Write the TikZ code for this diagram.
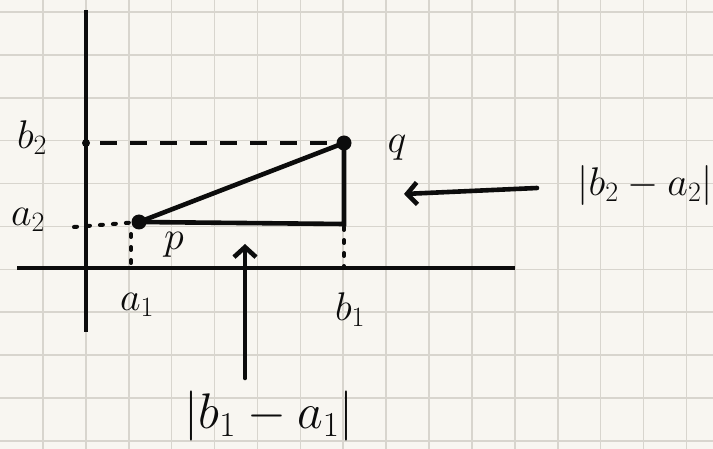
\RequirePackage{fix-cm}
\documentclass[tikz,border=0pt]{standalone}
\usepackage{amsmath,amssymb}
\usepackage{xcolor}
\usepackage{tikz}
\usetikzlibrary{arrows.meta,positioning,calc}
\definecolor{Xpaper}{RGB}{248,246,241}
\definecolor{Xgrid}{RGB}{216,213,206}
\definecolor{Xink}{RGB}{12,12,12}
\tikzset{
  axisline/.style={line width=4.6pt, draw=Xink},
  seg/.style={line width=4.6pt, draw=Xink, line cap=round},
  guide/.style={line width=4.6pt, draw=Xink, dash pattern=on 17pt off 13pt},
  dotguide/.style={line width=4pt, draw=Xink, line cap=round, dash pattern=on 3pt off 10pt},
  pointdot/.style={circle, fill=Xink, inner sep=0pt, minimum size=15pt},
  flow/.style={-{Straight Barb[length=10pt,width=22pt,line width=4.6pt]}, line width=4.6pt, draw=Xink, line cap=round},
  lbl/.style={inner sep=0pt, text=Xink, font=\fontsize{40}{44}\selectfont},
  biglbl/.style={inner sep=0pt, text=Xink, font=\fontsize{50}{54}\selectfont}
}

\begin{document}
\begin{tikzpicture}[x=1pt, y=-1pt]
  % paper and grid
  \fill[Xpaper] (0,0) rectangle (713,449);
  \useasboundingbox (0,0) rectangle (713,449);
  \foreach \i in {1,...,16}
    \draw[Xgrid, line width=1.6pt] (\i*42.9,0) -- (\i*42.9,449);
  \foreach \j in {0,...,10}
    \draw[Xgrid, line width=1.6pt] (0,12+\j*42.9) -- (713,12+\j*42.9);

  % axes
  \coordinate (ytop) at (86,10);
  \coordinate (ybot) at (86,332);
  \coordinate (xleft) at (17,268);
  \coordinate (xright) at (515,268);
  \draw[axisline] (ytop) -- (ybot);
  \draw[axisline] (xleft) -- (xright);

  % points and triangle
  \node[pointdot] (p) at (139,222) {};
  \node[pointdot] (q) at (344,143) {};
  \coordinate (corner) at (344,224);
  \draw[seg] (p.center) -- (q.center);
  \draw[seg] (p.center) -- (corner) -- (q.center);

  % guides to the axes
  \coordinate (b2tick) at (86,143);
  \coordinate (a2tick) at (74,227);
  \coordinate (a1top) at (131,234);
  \coordinate (a1tick) at (131,268);
  \coordinate (b1tick) at (344,268);
  \fill[Xink] (b2tick) circle (4pt);
  \draw[guide] ([xshift=14pt]b2tick) -- (q);
  \draw[dotguide] (a2tick) -- (p);
  \draw[dotguide] (a1top) -- (a1tick);
  \draw[dotguide] ([yshift=10pt]corner) -- (b1tick);

  % labels
  \node[lbl] (b2) at (32,138) {$b_2$};
  \node[lbl] (a2) at (28,220) {$a_2$};
  \node[lbl] (a1) at (137,305) {$a_1$};
  \node[lbl] (b1) at (350,310) {$b_1$};
  \node[lbl] (plbl) at (174,245) {$p$};
  \node[lbl] (qlbl) at (397,148) {$q$};

  % distances
  \node[biglbl] (dx) at (269,416) {$\lvert b_1-a_1\rvert$};
  \node[lbl] (dy) at (645,186) {$\lvert b_2-a_2\rvert$};
  \coordinate (uptail) at (245,378);
  \coordinate (uphead) at (245,244);
  \coordinate (lefttail) at (537,188);
  \coordinate (lefthead) at (404,194);
  \draw[flow] (uptail) -- (uphead);
  \draw[flow] (lefttail) -- (lefthead);
\end{tikzpicture}
\end{document}
